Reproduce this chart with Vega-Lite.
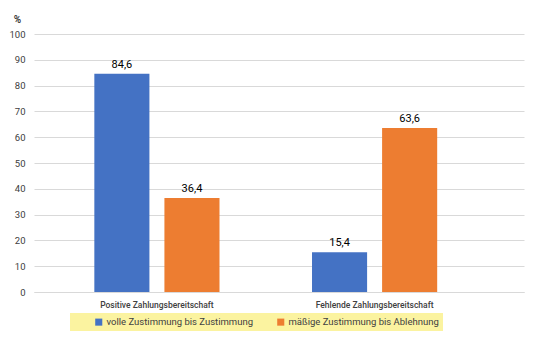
{
  "$schema": "https://vega.github.io/schema/vega-lite/v6.json",
  "autosize": {"type": "none"},
  "width": 490,
  "height": 258,
  "padding": {"left": 34, "top": 34, "right": 12, "bottom": 60},
  "background": "white",
  "config": {
    "font": "Roboto",
    "view": {"stroke": null},
    "locale": {"number": {"decimal": ",", "thousands": ".", "grouping": [3], "currency": ["", " €"]}}
  },
  "data": {
    "values": [
      {"kategorie": "Positive Zahlungsbereitschaft", "gruppe": "volle Zustimmung bis Zustimmung", "wert": 84.6},
      {"kategorie": "Positive Zahlungsbereitschaft", "gruppe": "mäßige Zustimmung bis Ablehnung", "wert": 36.4},
      {"kategorie": "Fehlende Zahlungsbereitschaft", "gruppe": "volle Zustimmung bis Zustimmung", "wert": 15.4},
      {"kategorie": "Fehlende Zahlungsbereitschaft", "gruppe": "mäßige Zustimmung bis Ablehnung", "wert": 63.6}
    ]
  },
  "encoding": {
    "x": {
      "field": "kategorie", "type": "nominal", "sort": null,
      "scale": {"paddingInner": 0.425, "paddingOuter": 0.338, "align": 0.41},
      "axis": {"title": null, "labelAngle": 0, "ticks": false, "domain": true, "domainColor": "#d9d9d9",
               "labelFontSize": 8.5, "labelFontWeight": 500, "labelColor": "#404040", "labelPadding": 8}
    },
    "xOffset": {"field": "gruppe", "type": "nominal", "sort": null, "scale": {"paddingInner": 0.214, "paddingOuter": 0}},
    "y": {
      "field": "wert", "type": "quantitative",
      "scale": {"domain": [0, 100]},
      "axis": {"title": "%", "titleAngle": 0, "titleX": -17, "titleY": -15, "titleAlign": "center", "titleBaseline": "middle",
               "titleFontSize": 10, "titleFontWeight": "bold", "titleColor": "#404040",
               "values": [0,10,20,30,40,50,60,70,80,90,100], "ticks": false, "domain": false,
               "gridColor": "#d9d9d9", "labelFontSize": 9.5, "labelColor": "#404040", "labelPadding": 9}
    }
  },
  "layer": [
    {
      "mark": {"type": "bar"},
      "encoding": {
        "color": {
          "field": "gruppe", "type": "nominal", "sort": null,
          "scale": {"domain": ["volle Zustimmung bis Zustimmung", "mäßige Zustimmung bis Ablehnung"], "range": ["#4472C4", "#ED7D31"]},
          "legend": {
            "title": null, "orient": "none", "legendX": 36, "legendY": 279, "direction": "horizontal",
            "fillColor": "#FBF3A0", "padding": 4, "symbolType": "square", "symbolSize": 50,
            "symbolStrokeWidth": 0, "symbolOffset": 20, "columnPadding": 2,
            "labelFontSize": 9.5, "labelColor": "#404040", "labelLimit": 400, "labelOffset": 3
          }
        }
      }
    },
    {
      "mark": {"type": "text", "dy": -9, "fontSize": 11, "color": "#000000"},
      "encoding": {
        "text": {"field": "wert", "type": "quantitative", "format": ".1f"}
      }
    }
  ]
}
